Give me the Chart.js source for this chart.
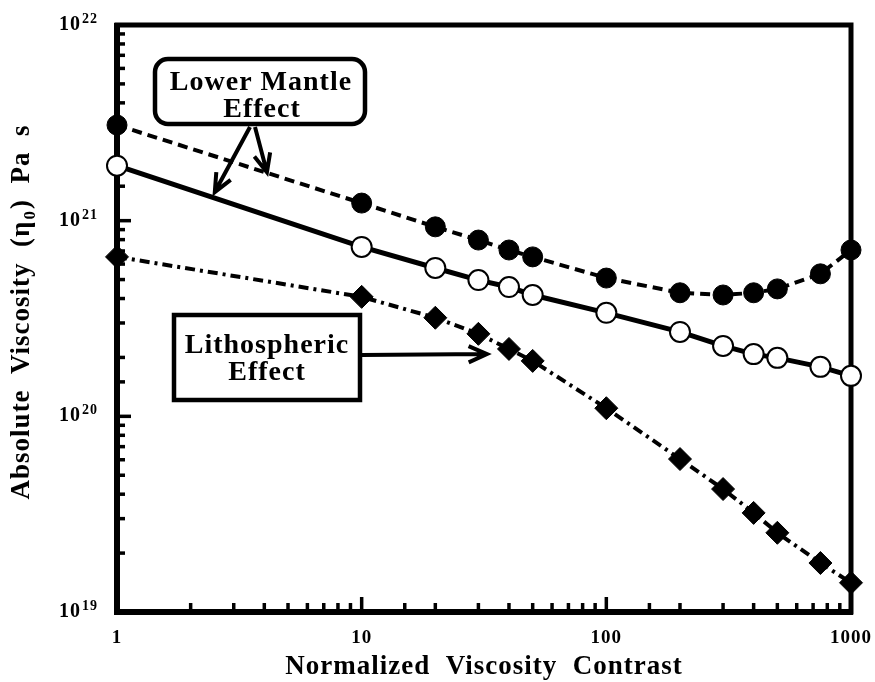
<!DOCTYPE html>
<html>
<head>
<meta charset="utf-8">
<script src="https://cdn.jsdelivr.net/npm/chart.js@4"></script>
<style>
  html, body { margin: 0; padding: 0; background: #fff; }
</style>
</head>
<body>
<canvas id="viscChart" width="875" height="682"></canvas>
<script>
// normalized viscosity contrast (x) and absolute viscosity in Pa s (y)
const contrast = [1, 10, 20, 30, 40, 50, 100, 200, 300, 400, 500, 750, 1000];
const viscLowerMantle = [3.08e21, 1.23e21, 9.3e20, 7.96e20, 7.08e20, 6.53e20, 5.09e20, 4.28e20, 4.17e20, 4.28e20, 4.48e20, 5.35e20, 7.08e20];
const viscReference = [1.91e21, 7.34e20, 5.73e20, 4.97e20, 4.58e20, 4.17e20, 3.38e20, 2.70e20, 2.29e20, 2.08e20, 1.99e20, 1.79e20, 1.61e20];
const viscLithosphere = [6.53e20, 4.08e20, 3.19e20, 2.64e20, 2.21e20, 1.92e20, 1.10e20, 6.05e19, 4.25e19, 3.21e19, 2.54e19, 1.78e19, 1.41e19];

const xTickLabels = { 1: '1', 10: '10', 100: '100', 1000: '1000' };
const yTickExponents = { 19: '19', 20: '20', 21: '21', 22: '22' };

const SERIF = '"Liberation Serif", "Times New Roman", serif';

function isDecade(v) {
  const l = Math.log10(v);
  return Math.abs(l - Math.round(l)) < 1e-6;
}

function points(ys) {
  return contrast.map((x, i) => ({ x: x, y: ys[i] }));
}

function arrow(ctx, x0, y0, x1, y1, head) {
  const a = Math.atan2(y1 - y0, x1 - x0);
  ctx.beginPath();
  ctx.moveTo(x0, y0);
  ctx.lineTo(x1, y1);
  ctx.moveTo(x1 - head * Math.cos(a - 0.42), y1 - head * Math.sin(a - 0.42));
  ctx.lineTo(x1, y1);
  ctx.lineTo(x1 - head * Math.cos(a + 0.42), y1 - head * Math.sin(a + 0.42));
  ctx.stroke();
}

function roundBox(ctx, x, y, w, h, r) {
  ctx.beginPath();
  ctx.moveTo(x + r, y);
  ctx.arcTo(x + w, y, x + w, y + h, r);
  ctx.arcTo(x + w, y + h, x, y + h, r);
  ctx.arcTo(x, y + h, x, y, r);
  ctx.arcTo(x, y, x + w, y, r);
  ctx.closePath();
}

// wide-set lettering, as in the printed figure
const spacingPlugin = {
  id: 'spacing',
  beforeDraw(chart) {
    chart.ctx.letterSpacing = '1px';
  }
};

// heavy frame with inward log ticks and 10^n labels, drawn under the data
const framePlugin = {
  id: 'frame',
  beforeDatasetsDraw(chart) {
    const { ctx, chartArea: a, scales: { x, y } } = chart;
    ctx.save();
    ctx.strokeStyle = '#000';
    ctx.fillStyle = '#000';
    ctx.lineCap = 'butt';
    ctx.lineWidth = 3.5;
    x.ticks.forEach(t => {
      if (t.value <= x.min || t.value >= x.max) return;
      const px = x.getPixelForValue(t.value);
      const len = isDecade(t.value) ? 15 : 9;
      ctx.beginPath();
      ctx.moveTo(px, a.bottom);
      ctx.lineTo(px, a.bottom - len);
      ctx.stroke();
    });
    y.ticks.forEach(t => {
      const py = y.getPixelForValue(t.value);
      if (isDecade(t.value)) {
        // "10" with a raised exponent
        const exp = yTickExponents[Math.round(Math.log10(t.value))];
        ctx.textAlign = 'right';
        ctx.textBaseline = 'alphabetic';
        ctx.font = 'bold 14px ' + SERIF;
        ctx.fillText(exp, 98, py - 2);
        const ew = ctx.measureText(exp).width;
        ctx.font = 'bold 20px ' + SERIF;
        ctx.fillText('10', 97 - ew, py + 5);
      }
      if (t.value <= y.min || t.value >= y.max) return;
      const len = isDecade(t.value) ? 14 : 8;
      ctx.beginPath();
      ctx.moveTo(a.left, py);
      ctx.lineTo(a.left + len, py);
      ctx.stroke();
    });
    ctx.lineWidth = 5;
    ctx.strokeRect(a.left, a.top, a.right - a.left, a.bottom - a.top);
    ctx.lineWidth = 6;
    ctx.beginPath();
    ctx.moveTo(a.left, a.top - 2);
    ctx.lineTo(a.left, a.bottom);
    ctx.lineTo(a.right + 2, a.bottom);
    ctx.stroke();
    ctx.restore();
  }
};

// axis titles and the two labelled callouts
const notesPlugin = {
  id: 'notes',
  afterDraw(chart) {
    const { ctx, chartArea: a, scales: { x, y } } = chart;
    ctx.save();
    ctx.fillStyle = '#000';
    ctx.strokeStyle = '#000';
    ctx.letterSpacing = '1px';

    // x title
    ctx.font = 'bold 27px ' + SERIF;
    ctx.textAlign = 'center';
    ctx.textBaseline = 'alphabetic';
    ctx.fillText('Normalized  Viscosity  Contrast', (a.left + a.right) / 2, 674);

    // y title, with subscript
    ctx.save();
    ctx.translate(29, 312);
    ctx.rotate(-Math.PI / 2);
    ctx.textAlign = 'left';
    const big = 'bold 27px ' + SERIF, small = 'bold 17px ' + SERIF;
    const pre = 'Absolute  Viscosity  (η', sub = '0', post = ')  Pa  s';
    ctx.font = big;
    const w1 = ctx.measureText(pre).width, w3 = ctx.measureText(post).width;
    ctx.font = small;
    const w2 = ctx.measureText(sub).width + 2;
    let cx = -(w1 + w2 + w3) / 2;
    ctx.font = big;
    ctx.fillText(pre, cx, 0);
    cx += w1;
    ctx.font = small;
    ctx.fillText(sub, cx + 1, 6);
    cx += w2;
    ctx.font = big;
    ctx.fillText(post, cx, 0);
    ctx.restore();

    // Lower Mantle Effect callout
    ctx.lineWidth = 4.5;
    ctx.fillStyle = '#fff';
    roundBox(ctx, 155, 59, 210, 65, 13);
    ctx.fill();
    ctx.stroke();
    ctx.fillStyle = '#000';
    ctx.font = 'bold 28px ' + SERIF;
    ctx.textAlign = 'center';
    ctx.fillText('Lower Mantle', 261, 90);
    ctx.fillText('Effect', 262, 117);
    ctx.lineWidth = 4;
    arrow(ctx, 250, 127, x.getPixelForValue(2.51), y.getPixelForValue(1.40e21), 20);
    arrow(ctx, 255, 127, x.getPixelForValue(4.1), y.getPixelForValue(1.77e21), 20);

    // Lithospheric Effect callout
    ctx.lineWidth = 4.5;
    ctx.fillStyle = '#fff';
    ctx.fillRect(174, 315, 186, 85);
    ctx.strokeRect(174, 315, 186, 85);
    ctx.fillStyle = '#000';
    ctx.fillText('Lithospheric', 267, 353);
    ctx.fillText('Effect', 267, 380);
    ctx.lineWidth = 4;
    arrow(ctx, 362, 355, x.getPixelForValue(32.5), y.getPixelForValue(2.08e20), 20);

    ctx.restore();
  }
};

new Chart(document.getElementById('viscChart'), {
  type: 'line',
  data: {
    datasets: [
      {
        label: 'Lower mantle',
        data: points(viscLowerMantle),
        borderColor: '#000',
        borderWidth: 4,
        borderDash: [10, 6],
        pointStyle: 'circle',
        pointRadius: 10,
        pointBackgroundColor: '#000',
        pointBorderColor: '#000',
        pointBorderWidth: 1,
        clip: false
      },
      {
        label: 'Reference',
        data: points(viscReference),
        borderColor: '#000',
        borderWidth: 5,
        pointStyle: 'circle',
        pointRadius: 10,
        pointBackgroundColor: '#fff',
        pointBorderColor: '#000',
        pointBorderWidth: 2,
        clip: false
      },
      {
        label: 'Lithosphere',
        data: points(viscLithosphere),
        borderColor: '#000',
        borderWidth: 4,
        borderDash: [10, 5, 3, 5],
        pointStyle: 'rectRot',
        pointRadius: 11.5,
        pointBackgroundColor: '#000',
        pointBorderColor: '#000',
        pointBorderWidth: 1,
        clip: false
      }
    ]
  },
  options: {
    responsive: false,
    animation: false,
    devicePixelRatio: 1,
    layout: { padding: { top: 25, right: 24, left: 0, bottom: 0 } },
    plugins: {
      legend: { display: false },
      tooltip: { enabled: false }
    },
    scales: {
      x: {
        type: 'logarithmic',
        min: 1,
        max: 1000,
        grid: { display: false, drawTicks: false },
        border: { display: false },
        ticks: {
          autoSkip: false,
          maxRotation: 0,
          padding: 15,
          color: '#000',
          font: { family: SERIF, size: 19, weight: 'bold' },
          callback: v => xTickLabels[v] || ''
        },
        afterFit: s => {
          s.height = 70;
          s.paddingLeft = 0;
          s.paddingRight = 0;
        }
      },
      y: {
        type: 'logarithmic',
        min: 1e19,
        max: 1e22,
        grid: { display: false, drawTicks: false },
        border: { display: false },
        ticks: { display: false },
        afterFit: s => {
          s.width = 117;
          s.paddingTop = 0;
          s.paddingBottom = 0;
        }
      }
    }
  },
  plugins: [spacingPlugin, framePlugin, notesPlugin]
});
</script>
</body>
</html>
